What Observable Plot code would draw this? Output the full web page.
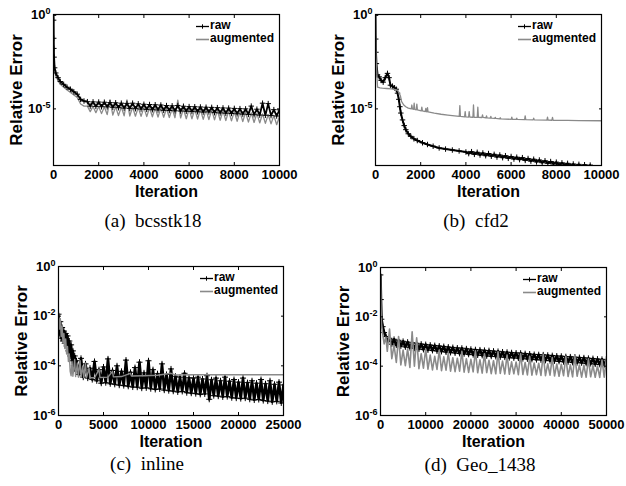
<!DOCTYPE html>
<html><head><meta charset="utf-8">
<script src="https://cdn.jsdelivr.net/npm/d3@7"></script>
<script src="https://cdn.jsdelivr.net/npm/@observablehq/plot@0.6"></script>
<style>
body{margin:0;background:#fff;}
#root{position:relative;width:626px;height:486px;overflow:hidden;background:#fff;}
.panel{position:absolute;}
.cap{position:absolute;font-family:"Liberation Serif","Times New Roman",serif;font-size:19px;line-height:19px;white-space:pre;transform:translateX(-50%);color:#000;}
.legtxt{position:absolute;font:bold 12px "Liberation Sans",Arial,sans-serif;line-height:12px;color:#000;white-space:pre;}
.legsym{position:absolute;}
</style></head><body><div id="root"></div><script>
// ---------- tick labels ----------
const xTicksA = [0, 2000, 4000, 6000, 8000, 10000];
const xTicksC = [0, 5000, 10000, 15000, 20000, 25000];
const xTicksD = [0, 10000, 20000, 30000, 40000, 50000];
const yTicksAB = [1, 1e-5];
const yTicksCD = [1, 1e-2, 1e-4, 1e-6];
const seriesNames = ["raw", "augmented"];
const captions = ["(a)\u2002bcsstk18", "(b)\u2002cfd2", "(c)\u2002inline", "(d)\u2002Geo_1438"];

// ---------- (a) bcsstk18 ----------
const iterA = [0,5,10,15,25,50,100,200,300,450,600,750,900,1050,1200,1350,
1500,1625,1750,1875,2000,2125,2250,2375,2500,2625,2750,2875,3000,3125,3250,3375,3500,3625,3750,3875,
4000,4125,4250,4375,4500,4625,4750,4875,5000,5125,5250,5375,5500,5625,5750,5875,6000,6125,6250,6375,
6500,6625,6750,6875,7000,7125,7250,7375,7500,7625,7750,7875,8000,8125,8250,8375,8500,8625,8750,8875,
9000,9125,9250,9375,9500,9625,9750,9875,10000];
const rawA = [0.9,0.5,0.055,0.016,5.5e-3,1.5e-3,8e-4,4.5e-4,2.8e-4,2.0e-4,1.4e-4,1.1e-4,8e-5,6e-5,3.2e-5,2.6e-5,
2.4e-5,1.4e-5,2.35e-5,1.35e-5,2.3e-5,1.3e-5,2.25e-5,1.28e-5,2.15e-5,1.22e-5,2.1e-5,1.15e-5,2.0e-5,1.1e-5,1.95e-5,1.06e-5,2.0e-5,1.02e-5,1.85e-5,9.8e-6,
1.75e-5,9.4e-6,1.7e-5,9.0e-6,1.65e-5,8.8e-6,1.6e-5,8.4e-6,1.5e-5,8.2e-6,1.45e-5,7.9e-6,1.5e-5,7.7e-6,1.38e-5,7.5e-6,1.32e-5,7.3e-6,1.3e-5,7.0e-6,
1.26e-5,6.8e-6,1.22e-5,6.9e-6,1.2e-5,6.3e-6,1.16e-5,6.1e-6,1.12e-5,5.9e-6,1.1e-5,5.7e-6,1.06e-5,5.5e-6,1.03e-5,5.3e-6,1.0e-5,5.1e-6,1.4e-5,4.9e-6,
9.6e-6,4.7e-6,2.0e-5,4.6e-6,1.9e-5,4.4e-6,9.1e-6,4.2e-6,8.9e-6];
const augA = [0.9,0.3,0.03,0.01,3.5e-3,1.0e-3,5.5e-4,3.2e-4,2.0e-4,1.4e-4,1.0e-4,7.5e-5,5.5e-5,4.0e-5,1.8e-5,1.4e-5,
1.4e-5,7.1e-6,1.35e-5,6.3e-6,1.35e-5,5.6e-6,1.3e-5,5.0e-6,3.0e-5,4.7e-6,1.3e-5,4.4e-6,1.3e-5,4.3e-6,3.0e-5,4.2e-6,1.25e-5,4.1e-6,1.2e-5,4.0e-6,
1.2e-5,3.9e-6,1.15e-5,3.8e-6,1.12e-5,3.7e-6,1.1e-5,3.6e-6,1.05e-5,3.5e-6,1.05e-5,3.4e-6,2.9e-5,3.3e-6,1.0e-5,3.0e-6,1.0e-5,2.95e-6,9.5e-6,2.9e-6,
9.2e-6,2.8e-6,9.0e-6,2.7e-6,8.6e-6,2.6e-6,8.3e-6,2.5e-6,8.0e-6,2.4e-6,7.6e-6,2.3e-6,7.3e-6,2.2e-6,7.0e-6,2.1e-6,6.6e-6,2.0e-6,6.2e-6,1.9e-6,
5.8e-6,1.8e-6,5.4e-6,1.7e-6,5.0e-6,1.6e-6,4.5e-6,1.45e-6,4.0e-6];

// ---------- (b) cfd2 ----------
const iterBRaw = [0,10,20,40,90,160,250,340,430,530,600,660,750,840,920,975,1030,1077,1120,1195,
1270,1342,1450,1563,1700,1850,2080,2300,2550,2817,3100,3400,3700,4000,
4125,4250,4375,4500,4625,4750,4875,5000,5125,5250,5375,5500,5625,5750,5875,6000,6125,6250,6375,6500,
6625,6750,6875,7000,7125,7250,7375,7500,7625,7750,7875,8000,8125,8250,8375,8500,8625,8750,8875,9000,
9125,9250,9375,9500];
const rawB = [0.9,0.05,0.01,2.5e-3,6.3e-4,5.0e-4,3.2e-4,2.6e-4,4.5e-4,7.6e-4,4.5e-4,1.8e-4,1.6e-4,1.3e-4,1.1e-4,6.8e-5,3.2e-5,1.3e-5,6.0e-6,2.6e-6,
1.3e-6,7.9e-7,4.8e-7,3.5e-7,2.6e-7,2.1e-7,1.6e-7,1.3e-7,1.05e-7,8.5e-8,7.4e-8,6.6e-8,5.9e-8,5.2e-8,
4.27e-8,5.4e-8,3.9e-8,5.0e-8,3.6e-8,4.6e-8,3.3e-8,4.3e-8,3.1e-8,3.9e-8,2.8e-8,3.6e-8,2.6e-8,3.3e-8,2.4e-8,3.0e-8,2.2e-8,2.75e-8,2.05e-8,2.6e-8,
1.86e-8,2.35e-8,1.7e-8,2.15e-8,1.55e-8,1.95e-8,1.4e-8,1.78e-8,1.3e-8,1.62e-8,1.2e-8,1.5e-8,1.1e-8,1.38e-8,1.02e-8,1.3e-8,9.3e-9,1.2e-8,8.7e-9,1.15e-8,
7.9e-9,1.1e-8,7.9e-9,1.05e-8];
const iterBAug = [0,10,20,50,90,200,300,500,700,900,1000,1100,1150,1250,1340,1450,
1583,1608,1633,1686,1711,1736,1804,1829,1854,2025,2050,2075,2202,2227,2252,2275,2300,2325,
2600,2900,3200,3500,
3707,3732,3757,3943,3968,3993,4120,4145,4170,4311,4336,4361,4503,4528,4553,4710,4735,4760,
4887,4912,4937,5078,5103,5128,5275,5300,5325,5495,5520,5545,6006,6031,6056,6225,6250,6275,
6598,6623,6648,6975,7000,7025,7586,7611,7636,7807,7832,7857,
8500,9000,10000];
const augB = [0.9,0.03,5e-3,1.3e-3,1.4e-4,1.3e-4,1.25e-4,1.2e-4,1.15e-4,1.05e-4,9e-5,5e-5,2.5e-5,1.6e-5,1.3e-5,1.1e-5,
1.0e-5,1.6e-5,1.0e-5,9.5e-6,2.0e-5,9.5e-6,8.9e-6,1.8e-5,8.9e-6,7.9e-6,1.23e-5,7.9e-6,7.2e-6,1.07e-5,7.2e-6,6.9e-6,1.17e-5,6.9e-6,
5.9e-6,5.2e-6,4.7e-6,4.3e-6,
4.0e-6,1.5e-5,4.0e-6,3.8e-6,7.2e-6,3.8e-6,3.7e-6,7.2e-6,3.7e-6,3.6e-6,1.6e-5,3.6e-6,3.55e-6,1.23e-5,3.55e-6,3.5e-6,4.8e-6,3.5e-6,
3.3e-6,4.3e-6,3.3e-6,3.2e-6,4.0e-6,3.2e-6,3.1e-6,3.55e-6,3.1e-6,2.95e-6,3.4e-6,2.95e-6,2.8e-6,3.6e-6,2.8e-6,2.75e-6,3.2e-6,2.75e-6,
2.7e-6,4.3e-6,2.7e-6,2.6e-6,3.2e-6,2.6e-6,2.55e-6,3.6e-6,2.55e-6,2.5e-6,3.5e-6,2.5e-6,
2.45e-6,2.4e-6,2.35e-6];

// ---------- (c) inline ----------
const iterCRaw = [0,100,200,300,400,500,600,700,800,900,1000,1100,1200,1300,1400,1500,1600,1700,1800,1900,2000,
2250,2500,2750,3000,3250,3500,3750,4000,4250,4500,4750,5000,5250,5500,5750,6000,6250,6500,6750,7000,
7250,7500,7750,8000,8250,8500,8750,9000,9250,9500,9750,10000,10250,10500,10750,11000,11250,11500,11750,12000,
12250,12500,12750,13000,13250,13500,13750,14000,14250,14500,14750,15000,15250,15500,15750,16000,16250,16500,16750,17000,
17250,17500,17750,18000,18250,18500,18750,19000,19250,19500,19750,20000,20250,20500,20750,21000,21250,21500,21750,22000,
22250,22500,22750,23000,23250,23500,23750,24000,24250,24500,24750,25000];
const rawC = [1.2e-2,2e-3,6e-3,1.3e-3,3.5e-3,1.0e-3,2.5e-3,8e-4,2.0e-3,6.3e-4,1.6e-3,4e-4,1.0e-3,2.5e-4,7e-4,1.6e-4,4e-4,1.0e-4,2.5e-4,6.3e-5,1.6e-4,
4.5e-5,2.0e-4,3.5e-5,1.2e-4,3.2e-5,8.0e-5,2.8e-5,1.5e-4,2.5e-5,7.0e-5,2.0e-5,9.0e-5,2.1e-5,1.9e-4,1.9e-5,6.5e-5,1.8e-5,1.0e-4,1.66e-5,6.0e-5,
1.6e-5,1.7e-4,1.5e-5,5.5e-5,1.4e-5,8.5e-5,1.38e-5,1.4e-4,1.26e-5,5.2e-5,1.3e-5,1.6e-4,1.2e-5,7.0e-5,1.12e-5,4.8e-5,1.17e-5,1.2e-4,1.05e-5,4.5e-5,
1.0e-5,7.5e-5,9.5e-6,3.8e-5,8.9e-6,3.5e-5,9.3e-6,5.0e-5,8.3e-6,3.3e-5,7.9e-6,3.2e-5,7.6e-6,3.5e-5,7.1e-6,2.95e-5,7.4e-6,4.0e-5,4.5e-6,2.75e-5,
6.3e-6,3.2e-5,6.0e-6,2.5e-5,5.6e-6,3.5e-5,5.75e-6,2.4e-5,5.2e-6,2.8e-5,5.0e-6,2.2e-5,4.8e-6,3.2e-5,5.0e-6,2.1e-5,4.5e-6,2.5e-5,4.2e-6,2.0e-5,
4.4e-6,2.8e-5,4.0e-6,1.9e-5,3.8e-6,2.5e-5,3.55e-6,1.8e-5,3.7e-6,2.2e-5,3.2e-6,1.7e-5];
const iterCAug = [0,100,200,300,400,500,600,700,800,900,1000,1100,1200,1300,1400,1500,1600,
1800,1900,2100,2200,2400,2500,2700,2800,3000,3100,3400,3500,
4000,4500,4600,5500,6000,6100,7000,8000,8100,9500,11000,12500,13000,15000,20000,25000];
const augC = [1.5e-2,3e-3,8e-3,1.5e-3,4e-3,8e-4,2e-3,5e-4,1.2e-3,3e-4,6e-4,1.5e-4,3e-4,6e-5,4e-5,1.5e-4,3.8e-5,
1.8e-4,3.7e-5,1.3e-4,3.6e-5,1.6e-4,3.5e-5,1.0e-4,3.4e-5,1.3e-4,3.3e-5,8e-5,3.3e-5,
3.3e-5,7e-5,3.4e-5,3.5e-5,6e-5,3.6e-5,3.7e-5,5e-5,3.9e-5,4.0e-5,4.2e-5,5.0e-5,4.3e-5,4.4e-5,4.4e-5,4.4e-5];

// ---------- (d) Geo_1438 ----------
const iterD = [0,100,220,500,810,1200,1500,
2000,2500,3000,3500,4000,4500,5000,5500,6000,6500,7000,7500,8000,8500,9000,9500,10000,10500,11000,11500,12000,12500,
13000,13500,14000,14500,15000,15500,16000,16500,17000,17500,18000,18500,19000,19500,20000,20500,21000,21500,22000,22500,
23000,23500,24000,24500,25000,25500,26000,26500,27000,27500,28000,28500,29000,29500,30000,30500,31000,31500,32000,32500,
33000,33500,34000,34500,35000,35500,36000,36500,37000,37500,38000,38500,39000,39500,40000,40500,41000,41500,42000,42500,
43000,43500,44000,44500,45000,45500,46000,46500,47000,47500,48000,48500,49000,49500,50000];
const rawD = [0.5,0.05,8e-3,4e-3,2.3e-3,1.6e-3,1.0e-3,
1.35e-3,7.8e-4,1.23e-3,7.1e-4,1.12e-3,6.5e-4,1.02e-3,6.0e-4,9.5e-4,5.6e-4,8.9e-4,5.25e-4,8.5e-4,4.9e-4,7.9e-4,4.7e-4,7.6e-4,4.5e-4,7.2e-4,4.3e-4,6.9e-4,4.1e-4,
6.6e-4,3.9e-4,6.3e-4,3.7e-4,6.0e-4,3.55e-4,5.75e-4,3.4e-4,5.5e-4,3.25e-4,5.4e-4,3.15e-4,5.1e-4,3.0e-4,4.9e-4,2.9e-4,4.7e-4,2.8e-4,4.6e-4,2.7e-4,
4.4e-4,2.6e-4,4.3e-4,2.5e-4,4.1e-4,2.45e-4,4.0e-4,2.35e-4,3.8e-4,2.3e-4,3.7e-4,2.2e-4,3.55e-4,2.15e-4,3.45e-4,2.1e-4,3.4e-4,2.0e-4,3.25e-4,1.95e-4,
3.15e-4,1.86e-4,3.0e-4,1.82e-4,2.95e-4,1.78e-4,2.9e-4,1.7e-4,2.8e-4,1.66e-4,2.7e-4,1.62e-4,2.6e-4,1.55e-4,2.55e-4,1.5e-4,2.45e-4,1.48e-4,2.4e-4,1.41e-4,
2.35e-4,1.38e-4,2.25e-4,1.35e-4,2.2e-4,1.29e-4,2.1e-4,1.26e-4,2.05e-4,1.2e-4,1.95e-4,1.17e-4,1.9e-4,1.12e-4,1.8e-4];
const augD = [0.5,0.03,5e-3,2e-3,8e-4,1.5e-3,4e-4,
3.2e-3,2.0e-4,7.1e-4,1.41e-4,1.6e-3,1.12e-4,4.5e-4,1.05e-4,5.0e-4,8.9e-5,2.5e-3,1.0e-4,1.4e-3,7.9e-5,3.2e-4,8.3e-5,5.0e-4,7.6e-5,2.8e-4,7.1e-5,2.5e-4,7.4e-5,
4.5e-4,6.6e-5,2.4e-4,6.9e-5,3.5e-4,6.3e-5,2.2e-4,6.0e-5,2.1e-4,6.3e-5,4.0e-4,5.75e-5,2.0e-4,5.6e-5,1.9e-4,5.9e-5,4.2e-4,5.4e-5,1.8e-4,5.25e-5,
3.2e-4,5.5e-5,1.74e-4,5.0e-5,1.66e-4,4.9e-5,3.8e-4,5.1e-5,1.6e-4,4.8e-5,2.8e-4,4.7e-5,1.5e-4,4.9e-5,1.48e-4,4.5e-5,3.2e-4,4.6e-5,1.41e-4,4.4e-5,
2.5e-4,4.3e-5,1.35e-4,4.5e-5,1.32e-4,4.2e-5,3.0e-4,4.1e-5,1.26e-4,4.3e-5,2.24e-4,4.0e-5,1.23e-4,3.9e-5,1.2e-4,4.1e-5,2.5e-4,3.8e-5,1.15e-4,3.7e-5,
2.8e-4,3.9e-5,1.12e-4,3.6e-5,1.1e-4,3.55e-5,2.0e-4,3.7e-5,1.07e-4,3.55e-5,1.02e-4,3.5e-5,1.78e-4,3.55e-5,2.5e-4];

// ---------- drawing ----------
const FONT = '"Liberation Sans", Arial, Helvetica, sans-serif';
const GRAY = "#8a8a8a";
const root = document.getElementById("root");
const svgNS = "http://www.w3.org/2000/svg";

function pairs(xs, ys) { return xs.map((x, i) => ({iter: x, err: ys[i]})); }

function panel(cfg) {
  const raw = pairs(cfg.rawX, cfg.rawY);
  const aug = pairs(cfg.augX, cfg.augY);
  const rawMarks = [
    Plot.line(raw, {x: "iter", y: "err", stroke: "#000", strokeWidth: cfg.rawW, clip: true}),
    Plot.dot(raw, {x: "iter", y: "err", symbol: "plus", r: cfg.rawR, stroke: "#000", strokeWidth: 1, clip: true})
  ];
  const augMarks = [Plot.line(aug, {x: "iter", y: "err", stroke: GRAY, strokeWidth: cfg.augW, clip: true})];
  const dataMarks = cfg.rawOnTop ? [...augMarks, ...rawMarks] : [...rawMarks, ...augMarks];
  const chart = Plot.plot({
    width: 313, height: cfg.height,
    marginLeft: cfg.mL, marginRight: cfg.mR, marginTop: cfg.mT, marginBottom: cfg.mB,
    style: {fontFamily: FONT, fontSize: "13px", fontWeight: "bold", color: "#000", background: "transparent", overflow: "visible"},
    x: {domain: cfg.xDomain},
    y: {type: "log", domain: cfg.yDomain},
    marks: [
      ...dataMarks,
      Plot.frame({stroke: "#000", strokeWidth: 1.2}),
      Plot.axisX({anchor: "bottom", ticks: cfg.xTicks, tickFormat: "d", tickSize: 0, tickPadding: 4, label: null}),
      Plot.axisX({anchor: "bottom", ticks: cfg.xTicks, tickSize: -3, fill: "none", label: null}),
      Plot.axisX({anchor: "top", ticks: cfg.xTicks, tickSize: -3, fill: "none", label: null}),
      Plot.axisY({anchor: "left", ticks: cfg.yTicks, tickFormat: d => "10^" + Math.round(Math.log10(d)), tickSize: 0, tickPadding: 3, label: null}),
      Plot.axisY({anchor: "left", ticks: cfg.yTicks, tickSize: -3, fill: "none", label: null}),
      Plot.axisY({anchor: "right", ticks: cfg.yTicks, tickSize: -3, fill: "none", label: null}),
      Plot.text(["Iteration"], {frameAnchor: "bottom", lineAnchor: "middle", textAnchor: "middle", dy: 26, fontSize: 16, text: d => d}),
      Plot.text(["Relative Error"], {frameAnchor: "left", lineAnchor: "middle", textAnchor: "middle", dx: -37, rotate: -90, fontSize: 17, text: d => d})
    ]
  });
  chart.querySelectorAll('g[aria-label="y-axis tick label"] text').forEach(t => {
    const parts = t.textContent.split("^");
    if (parts.length !== 2) return;
    t.textContent = parts[0];
    const ts = document.createElementNS(svgNS, "tspan");
    ts.setAttribute("dy", "-0.55em");
    ts.setAttribute("font-size", "9px");
    ts.textContent = parts[1];
    t.appendChild(ts);
  });
  const wrap = document.createElement("div");
  wrap.className = "panel";
  wrap.style.left = cfg.left + "px";
  wrap.style.top = cfg.top + "px";
  wrap.appendChild(chart);
  root.appendChild(wrap);

  // legend (top-right, inside frame)
  const FR = cfg.left + 313 - cfg.mR, FT = cfg.top + cfg.mT;
  const rows = [{name: seriesNames[0], color: "#000", plus: true, cy: FT + 12}, {name: seriesNames[1], color: GRAY, plus: false, cy: FT + 25}];
  rows.forEach(r => {
    const s = document.createElementNS(svgNS, "svg");
    s.setAttribute("width", "15"); s.setAttribute("height", "9");
    s.setAttribute("class", "legsym");
    s.style.left = (FR - 84) + "px"; s.style.top = (r.cy - 4.5) + "px";
    s.innerHTML = `<line x1="1" y1="4.5" x2="14" y2="4.5" stroke="${r.color}" stroke-width="${r.plus ? 1.3 : 1.6}"/>` +
      (r.plus ? `<path d="M7.5,2.3V6.7M5.3,4.5H9.7" stroke="#000" stroke-width="1"/>` : "");
    root.appendChild(s);
    const t = document.createElement("div");
    t.className = "legtxt";
    t.textContent = r.name;
    t.style.left = (FR - 69) + "px";
    t.style.top = (r.cy - 7) + "px";
    root.appendChild(t);
  });

  const c = document.createElement("div");
  c.className = "cap";
  c.textContent = cfg.caption;
  c.style.left = cfg.capX + "px";
  c.style.top = (cfg.capY - 10) + "px";
  root.appendChild(c);
}

panel({left: 0, top: 0, height: 200, mL: 53, mR: 34, mT: 14, mB: 35,
  xDomain: [0, 10000], xTicks: xTicksA, yDomain: [1e-8, 1], yTicks: yTicksAB,
  rawX: iterA, rawY: rawA, augX: iterA, augY: augA, rawOnTop: true, rawW: 1.8, rawR: 1.9, augW: 1.3,
  caption: captions[0], capX: 153, capY: 221});
panel({left: 313, top: 0, height: 200, mL: 62, mR: 25, mT: 14, mB: 35,
  xDomain: [0, 10000], xTicks: xTicksA, yDomain: [1e-8, 1], yTicks: yTicksAB,
  rawX: iterBRaw, rawY: rawB, augX: iterBAug, augY: augB, rawOnTop: false, rawW: 2, rawR: 1.9, augW: 1.3,
  caption: captions[1], capX: 476, capY: 221});
panel({left: 0, top: 243, height: 210, mL: 58, mR: 30, mT: 23, mB: 38,
  xDomain: [0, 25000], xTicks: xTicksC, yDomain: [1e-6, 1], yTicks: yTicksCD,
  rawX: iterCRaw, rawY: rawC, augX: iterCAug, augY: augC, rawOnTop: false, rawW: 2.6, rawR: 2.1, augW: 1.4,
  caption: captions[2], capX: 147, capY: 464});
panel({left: 313, top: 243, height: 210, mL: 67, mR: 20, mT: 24, mB: 38,
  xDomain: [0, 50000], xTicks: xTicksD, yDomain: [1e-6, 1], yTicks: yTicksCD,
  rawX: iterD, rawY: rawD, augX: iterD, augY: augD, rawOnTop: false, rawW: 2.6, rawR: 2, augW: 1.6,
  caption: captions[3], capX: 480, capY: 465});
</script></body></html>
